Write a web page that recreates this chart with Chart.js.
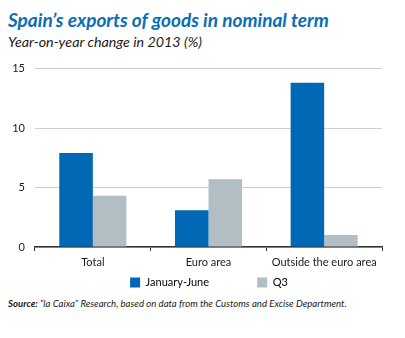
<!DOCTYPE html>
<html>
<head>
<meta charset="utf-8">
<script src="https://cdn.jsdelivr.net/npm/chart.js@4"></script>
<style>
body { margin: 0; width: 405px; height: 338px; background: #fff; position: relative; overflow: hidden; font-family: Lato, "Open Sans", sans-serif; }
.title { position: absolute; left: 8px; top: 8px; font-size: 19px; font-weight: bold; font-style: italic; color: #0b6db7; white-space: nowrap; }
.subtitle { position: absolute; left: 8px; top: 33px; font-size: 14.3px; font-style: italic; color: #1a1a1a; white-space: nowrap; }
.source { position: absolute; left: 8px; top: 298px; font-size: 9.6px; font-style: italic; color: #1a1a1a; white-space: nowrap; }
#wrap { position: absolute; left: 0; top: 52px; width: 405px; height: 246px; }
</style>
</head>
<body>
<div class="title">Spain’s exports of goods in nominal term</div>
<div class="subtitle">Year-on-year change in 2013 (%)</div>
<div id="wrap"><canvas id="myChart"></canvas></div>
<div class="source"><b>Source:</b> “la Caixa” Research, based on data from the Customs and Excise Department.</div>
<script>
// data
const categories = ["Total", "Euro area", "Outside the euro area"]
const seriesNames = ["January-June", "Q3"]
const janJune = [7.9, 3.1, 13.8]
const q3 = [4.3, 5.7, 1.0]
const yTicks = [0, 5, 10, 15]

const blue = "#0068b4"
const grey = "#b2bec3"

const ctx = document.querySelector("#myChart").getContext("2d")

// nudge the legend so it sits under the plot area, not the whole canvas
const legendShift = {
	id: "legendShift",
	afterLayout: chart => {
		chart.legend.left += 18
		chart.legend.right += 18
	},
}

const myChart = new Chart(ctx, {
	type: "bar",
	data: {
		labels: categories,
		datasets: [
			{ label: seriesNames[0], data: janJune, backgroundColor: blue },
			{ label: seriesNames[1], data: q3, backgroundColor: grey },
		],
	},
	options: {
		responsive: true,
		maintainAspectRatio: false,
		animation: false,
		layout: { padding: { top: 13, right: 23, left: 0, bottom: 0 } },
		datasets: { bar: { categoryPercentage: 0.58, barPercentage: 1 } },
		plugins: {
			tooltip: { enabled: false },
			legend: {
				position: "bottom",
				labels: {
					boxWidth: 10,
					boxHeight: 10,
					padding: 6,
					color: "#1a1a1a",
					font: { family: "Lato", size: 11 },
					// trailing spaces widen the gap between the two items
					generateLabels: chart =>
						chart.data.datasets.map((ds, i) => ({
							text: i === 0 ? ds.label + "               " : ds.label,
							fillStyle: ds.backgroundColor,
							strokeStyle: ds.backgroundColor,
							lineWidth: 0,
							datasetIndex: i,
						})),
				},
			},
		},
		scales: {
			x: {
				grid: { display: true, drawOnChartArea: false, offset: true, tickLength: 4, color: "#333" },
				border: { color: "#333", width: 1.5 },
				ticks: { color: "#1a1a1a", font: { family: "Lato", size: 11 }, padding: 5 },
				afterFit: scale => { scale.height = 24 },
			},
			y: {
				min: 0,
				max: 15,
				afterBuildTicks: scale => { scale.ticks = yTicks.map(v => ({ value: v })) },
				grid: { color: "#cfcfcf", drawTicks: false },
				border: { display: false },
				ticks: { color: "#1a1a1a", font: { family: "Lato", size: 11 }, padding: 10 },
				afterFit: scale => { scale.width = 35 },
			},
		},
	},
	plugins: [legendShift],
})
</script>
</body>
</html>
